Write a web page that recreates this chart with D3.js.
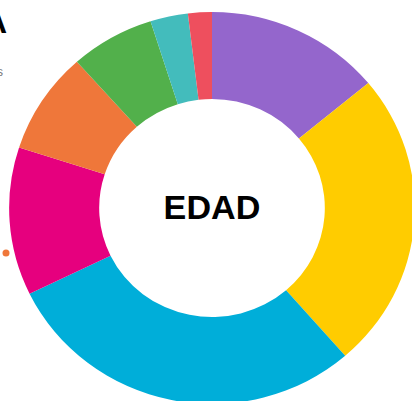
<!DOCTYPE html>
<html>
<head>
<meta charset="utf-8">
<script src="https://cdn.jsdelivr.net/npm/d3@7"></script>
<style>
  body { margin: 0; background: #fff; overflow: hidden; }
  svg { display: block; font-family: "Liberation Sans", Arial, sans-serif; }
</style>
</head>
<body>
<div id="chart"></div>
<script>
// age groups, share of respondents (%)
var categories = ["18-24", "25-34", "35-44", "45-54", "55-64", "65-74", "75-84", "85+"];
var values = [14.0, 24.6, 29.2, 12.2, 8.4, 6.7, 3.0, 1.9];
var colors = ["#9466cc", "#ffcc00", "#00aed9", "#e6007e", "#ef773a", "#52b04b", "#43bcbc", "#ee4f5e"];

var width = 412,
    height = 401;

var svg = d3.select("#chart").append("svg")
    .attr("width", width)
    .attr("height", height);

var color = d3.scaleOrdinal().domain(categories).range(colors);

var pie = d3.pie()
    .sort(null)
    .value(function(d) { return d.value; });

var arc = d3.arc()
    .innerRadius(109)
    .outerRadius(196);

var data = categories.map(function(c, i) { return {name: c, value: values[i]}; });

var g = svg.append("g")
    .attr("transform", "translate(212,208) scale(1.035,1)");

g.selectAll("path")
    .data(pie(data))
    .enter().append("path")
    .attr("d", arc)
    .attr("fill", function(d) { return color(d.data.name); });

g.append("text")
    .attr("text-anchor", "middle")
    .attr("y", 11)
    .attr("font-size", 33)
    .attr("font-weight", "bold")
    .attr("fill", "#000")
    .text("EDAD");

// title and legend sit mostly outside the visible area
svg.append("text")
    .attr("x", 7)
    .attr("y", 33)
    .attr("text-anchor", "end")
    .attr("font-size", 32)
    .attr("font-weight", "bold")
    .attr("fill", "#000")
    .text("EDAD DE LA MUESTRA");

svg.append("text")
    .attr("x", 3)
    .attr("y", 76)
    .attr("text-anchor", "end")
    .attr("font-size", 12)
    .attr("fill", "#777")
    .text("Encuestados");

svg.append("circle")
    .attr("cx", 6)
    .attr("cy", 253)
    .attr("r", 3.5)
    .attr("fill", color("55-64"));
</script>
</body>
</html>
